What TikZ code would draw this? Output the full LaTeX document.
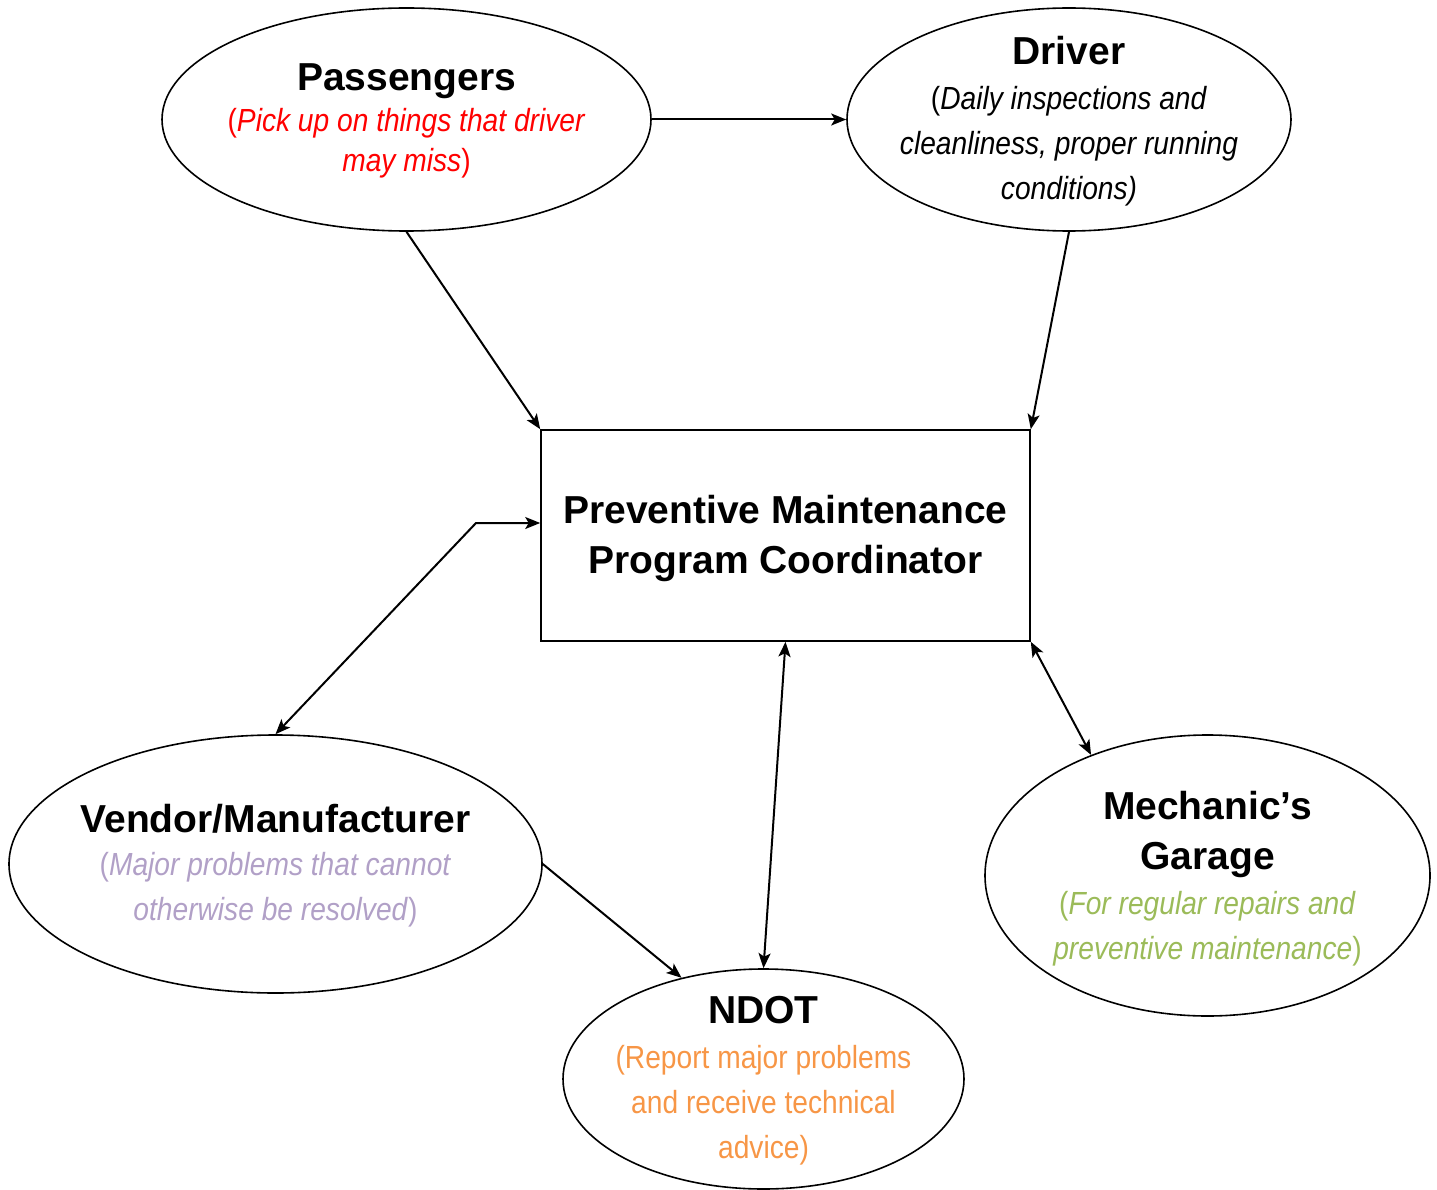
\documentclass[tikz,border=0pt]{standalone}
\usepackage{fontspec}
\setmainfont{Liberation Sans}
\newfontfamily\descfont{Liberation Sans}[FakeStretch=0.88]
\usetikzlibrary{arrows.meta,shapes.geometric,calc}
\definecolor{pred}{RGB}{255,0,0}
\definecolor{ppurple}{RGB}{177,160,199}
\definecolor{porange}{RGB}{247,150,70}
\definecolor{pgreen}{RGB}{155,187,89}
\newcommand{\ttl}{\fontsize{39}{45}\selectfont\rmfamily\bfseries}
\begin{document}
\begin{tikzpicture}[x=1pt,y=-1pt,
  ell/.style={ellipse, draw, line width=1.6pt, inner sep=0pt},
  box/.style={rectangle, draw, line width=1.6pt, inner sep=0pt},
  txt/.style={align=center, inner sep=0pt, font=\descfont\fontsize{32}{45}\selectfont},
  tip/.tip={Stealth[length=15pt,width=12pt,inset=3.5pt]},
  conn/.style={line width=2pt, -tip},
  both/.style={line width=2pt, tip-tip}]
\useasboundingbox (0,0) rectangle (1437,1190);

% shapes
\node[ell, minimum width=489pt, minimum height=223pt] (pass) at (406.5,119.5) {};
\node[ell, minimum width=444pt, minimum height=223pt] (drv) at (1069,119.5) {};
\node[box, minimum width=489pt, minimum height=211pt] (pmc) at (785.5,535.5) {};
\node[ell, minimum width=533pt, minimum height=258pt] (ven) at (275.5,864) {};
\node[ell, minimum width=445pt, minimum height=281pt] (mech) at (1207.5,875.5) {};
\node[ell, minimum width=401pt, minimum height=220pt] (ndot) at (763.5,1079) {};

% texts
\node[txt, text=pred] (passT) at (406.5,121) {\textcolor{black}{\ttl Passengers}\\[-4pt](\textit{Pick up on things that driver}\\[-5pt]\textit{may miss})};
\node[txt] (drvT) at (1069,121) {{\ttl Driver}\\(\textit{Daily inspections and}\\\textit{cleanliness, proper running}\\\textit{conditions)}};
\node[txt, font=\ttl\fontsize{39}{50}\selectfont] (pmcT) at (785.5,538) {Preventive Maintenance\\Program Coordinator};
\node[txt, text=ppurple] (venT) at (275.5,866) {\textcolor{black}{\ttl Vendor/Manufacturer}\\[-2pt](\textit{Major problems that cannot}\\\textit{otherwise be resolved})};
\node[txt, text=pgreen] (mechT) at (1207.5,879) {\textcolor{black}{\ttl Mechanic’s}\\[5pt]\textcolor{black}{\ttl Garage}\\(\textit{For regular repairs and}\\\textit{preventive maintenance})};
\node[txt, text=porange] (ndotT) at (763.5,1081) {\textcolor{black}{\ttl NDOT}\\(Report major problems\\and receive technical\\advice)};

% connectors
\coordinate (vbend) at (476,523);
\draw[conn] (pass.east) -- (drv.west);
\draw[conn] (pass.south) -- (pmc.north west);
\draw[conn] (drv.south) -- (pmc.north east);
\draw[both] (ven.north) -- (vbend) -- (vbend -| pmc.west);
\draw[both] (pmc.south) -- (ndot.north);
\draw[both] (pmc.south east) -- (mech.134);
\draw[conn] (ven.east) -- (ndot.129);
\end{tikzpicture}
\end{document}
